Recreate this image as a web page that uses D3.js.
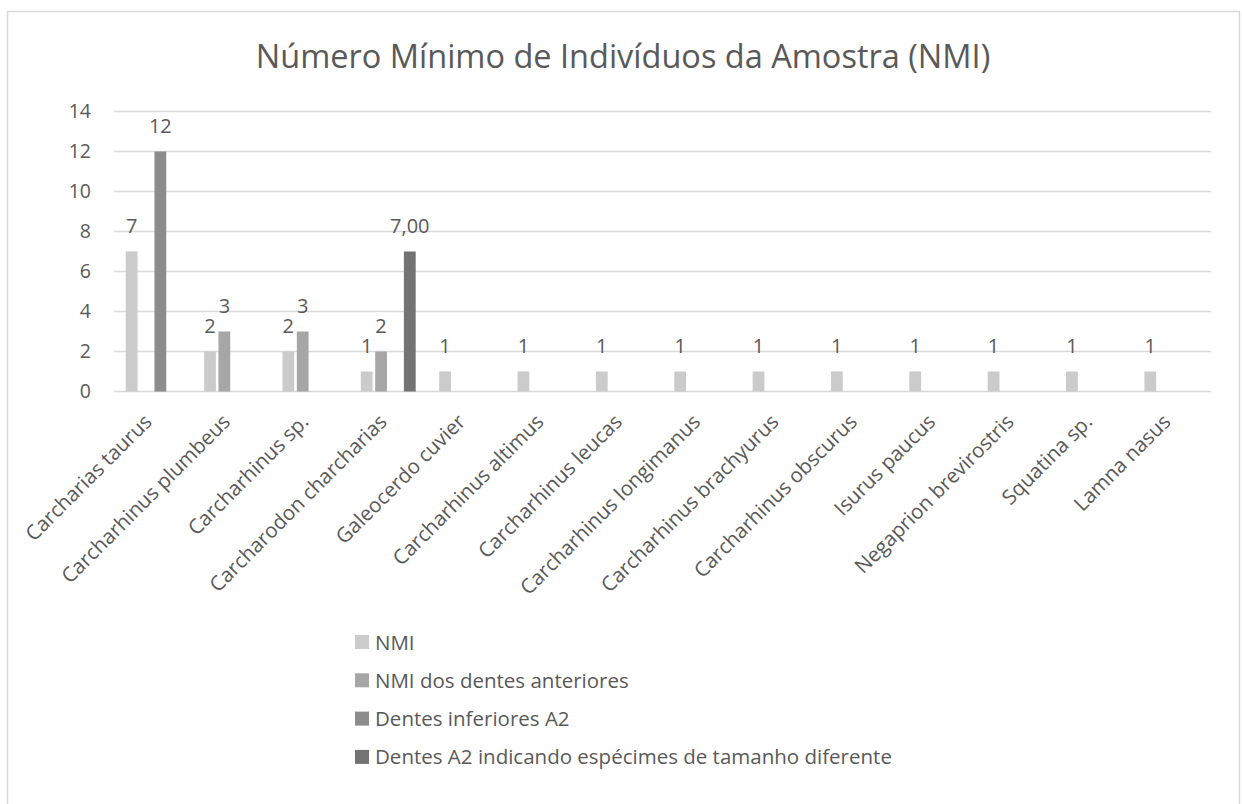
<!DOCTYPE html>
<html>
<head>
<meta charset="utf-8">
<script src="https://cdn.jsdelivr.net/npm/d3@7"></script>
<style>
  body { margin: 0; background: #fff; }
  text { font-family: "Open Sans", sans-serif; fill: #595959; }
</style>
</head>
<body>
<svg width="1242" height="804"></svg>
<script>
var species = ["Carcharias taurus", "Carcharhinus plumbeus", "Carcharhinus sp.",
    "Carcharodon charcharias", "Galeocerdo cuvier", "Carcharhinus altimus",
    "Carcharhinus leucas", "Carcharhinus longimanus", "Carcharhinus brachyurus",
    "Carcharhinus obscurus", "Isurus paucus", "Negaprion brevirostris",
    "Squatina sp.", "Lamna nasus"];

var seriesNames = ["NMI", "NMI dos dentes anteriores", "Dentes inferiores A2",
    "Dentes A2 indicando espécimes de tamanho diferente"];

var nmi        = [7, 2, 2, 1, 1, 1, 1, 1, 1, 1, 1, 1, 1, 1];
var anteriores = [null, 3, 3, 2, null, null, null, null, null, null, null, null, null, null];
var inferiores = [12, null, null, null, null, null, null, null, null, null, null, null, null, null];
var tamanho    = [null, null, null, 7, null, null, null, null, null, null, null, null, null, null];

var yTicks = [0, 2, 4, 6, 8, 10, 12, 14];

var colors = ["#cbcbcb", "#a6a6a6", "#8c8c8c", "#737373"];
var labelFormats = [d3.format("d"), d3.format("d"), d3.format("d"),
    function(v) { return d3.format(".2f")(v).replace(".", ","); }];

var allSeries = [nmi, anteriores, inferiores, tamanho];

var svg = d3.select("svg");

// chart frame (runs off the bottom of the picture)
svg.append("rect")
    .attr("x", 7.5).attr("y", 11.5)
    .attr("width", 1232).attr("height", 900)
    .attr("fill", "none")
    .attr("stroke", "#d9d9d9")
    .attr("stroke-width", 1.5);

var x0 = d3.scaleBand()
    .domain(species)
    .range([114, 1211])
    .paddingInner(0.3)
    .paddingOuter(0.15);

var x1 = d3.scaleBand()
    .domain(d3.range(seriesNames.length))
    .range([0, x0.bandwidth()])
    .paddingInner(0.18);

var y = d3.scaleLinear()
    .domain([0, 14])
    .range([391.5, 111.5]);

// gridlines
svg.append("g")
    .selectAll("line")
    .data(yTicks)
    .join("line")
    .attr("x1", 114).attr("x2", 1211)
    .attr("y1", d => y(d)).attr("y2", d => y(d))
    .attr("stroke", "#d9d9d9")
    .attr("stroke-width", 1.3);

// y axis labels
var yAxis = svg.append("g")
    .attr("transform", "translate(91,0)")
    .call(d3.axisLeft(y).tickValues(yTicks).tickSize(0).tickPadding(0));
yAxis.select(".domain").remove();
yAxis.selectAll("text")
    .attr("font-size", 19.5)
    .attr("font-family", "Open Sans")
    .attr("fill", "#595959");

// title
svg.append("text")
    .attr("x", 623)
    .attr("y", 68)
    .attr("text-anchor", "middle")
    .attr("font-size", 32.5)
    .text("Número Mínimo de Indivíduos da Amostra (NMI)");

// bars + labels
var groups = svg.append("g")
    .selectAll("g")
    .data(species)
    .join("g")
    .attr("transform", d => "translate(" + x0(d) + ",0)");

var cells = groups.selectAll("g")
    .data((d, i) => allSeries.map((s, k) => ({ k: k, v: s[i] })).filter(c => c.v != null))
    .join("g");

cells.append("rect")
    .attr("x", d => x1(d.k))
    .attr("width", x1.bandwidth())
    .attr("y", d => y(d.v))
    .attr("height", d => y(0) - y(d.v))
    .attr("fill", d => colors[d.k]);

cells.append("text")
    .attr("x", d => x1(d.k) + x1.bandwidth() / 2)
    .attr("y", d => y(d.v) - 19)
    .attr("text-anchor", "middle")
    .attr("font-size", 20)
    .attr("fill", "#404040")
    .text(d => labelFormats[d.k](d.v));

// category labels
svg.append("g")
    .selectAll("text")
    .data(species)
    .join("text")
    .attr("text-anchor", "end")
    .attr("font-size", 20.5)
    .attr("transform", d => "translate(" + (x0(d) + x0.bandwidth() / 2) + ",423) rotate(-45)")
    .text(d => d);

// legend
var legend = svg.append("g")
    .selectAll("g")
    .data(seriesNames)
    .join("g")
    .attr("transform", (d, i) => "translate(355," + (642 + i * 38.3) + ")");

legend.append("rect")
    .attr("x", 0).attr("y", -7)
    .attr("width", 14).attr("height", 14)
    .attr("fill", (d, i) => colors[i]);

legend.append("text")
    .attr("x", 20)
    .attr("y", 7.5)
    .attr("font-size", 20.5)
    .text(d => d);
</script>
</body>
</html>
